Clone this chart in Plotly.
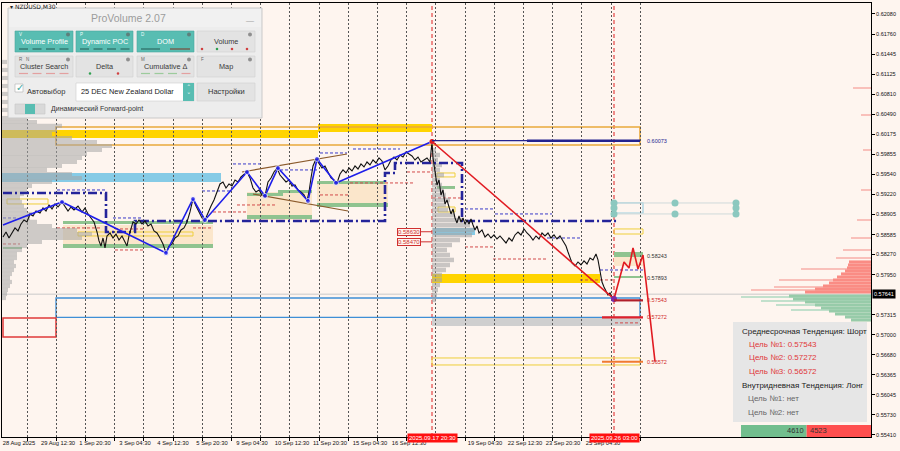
import plotly.graph_objects as go

# ---------------- data (x = bar position on the M30 time scale, y = price) ----------------
time_tick_pos = [19, 58, 95, 135, 173, 212, 252, 292, 330, 370, 409, 485, 525, 563, 603]
time_tick_text = ["28 Aug 2025", "29 Aug 12:30", "1 Sep 20:30", "3 Sep 04:30", "4 Sep 12:30",
                  "5 Sep 20:30", "9 Sep 04:30", "10 Sep 12:30", "11 Sep 20:30", "15 Sep 04:30",
                  "16 Sep 12:30", "19 Sep 04:30", "22 Sep 12:30", "23 Sep 20:30", "25 Sep 04:30"]
grid_pos = [27, 56.2, 85.4, 114.6, 143.8, 173, 202.2, 231.4, 260.6, 289.8, 319, 348.2, 377.4,
            406.6, 435.8, 465, 494.2, 523.4, 552.6, 581.8, 611, 640.2]
price_ticks = [0.62080, 0.61760, 0.61445, 0.61125, 0.60810, 0.60490, 0.60175, 0.59855, 0.59540,
               0.59220, 0.58905, 0.58585, 0.58270, 0.57950, 0.57315, 0.57000, 0.56680, 0.56365,
               0.56045, 0.55730, 0.55410]
current_price = 0.57641
marker_times = [432, 614]
marker_time_text = ["2025.09.17 20:30", "2025.09.26 03:00"]

price_x = [3, 6, 9, 12, 15, 18, 21, 24, 27, 30, 33, 36, 40, 43, 46, 49, 52, 55, 58, 62, 65, 68, 71, 74,
           78, 82, 85, 88, 91, 94, 97, 99, 101, 103, 105, 107, 110, 113, 116, 119, 122, 125, 127, 129,
           131, 133, 136, 139, 142, 145, 148, 151, 154, 157, 160, 163, 166, 169, 172, 175, 178, 181,
           184, 187, 190, 193, 196, 199, 202, 205, 208, 211, 214, 217, 220, 223, 226, 229, 232, 235,
           238, 241, 244, 247, 250, 253, 256, 259, 262, 265, 268, 271, 274, 277, 280, 283, 286, 289,
           292, 295, 298, 301, 304, 307, 309, 311, 313, 316, 319, 322, 325, 328, 331, 334, 337, 340,
           343, 346, 349, 352, 355, 358, 361, 364, 367, 370, 373, 376, 379, 382, 385, 388, 391, 394,
           397, 400, 403, 406, 409, 412, 415, 418, 421, 424, 427, 430, 432, 433, 435, 437, 439, 441,
           443, 445, 447, 449, 451, 453, 455, 457, 459, 461, 463, 465, 467, 469, 471, 473, 475, 477,
           479, 482, 485, 488, 491, 494, 497, 500, 503, 506, 509, 512, 515, 518, 521, 524, 527, 530,
           533, 536, 539, 542, 545, 548, 551, 554, 557, 560, 563, 566, 568, 570, 572, 575, 578, 581,
           584, 587, 590, 593, 596, 598, 600, 602, 604, 606, 608, 610, 612, 614]
price_y = [0.58547, 0.58626, 0.58531, 0.58610, 0.58690, 0.58642, 0.58753, 0.58816, 0.58785, 0.58912,
           0.58880, 0.58959, 0.58927, 0.59007, 0.58959, 0.59054, 0.58991, 0.59070, 0.59022, 0.59102,
           0.59038, 0.58959, 0.59022, 0.58975, 0.59038, 0.58943, 0.59007, 0.58912, 0.58848, 0.58785,
           0.58626, 0.58484, 0.58404, 0.58531, 0.58373, 0.58563, 0.58610, 0.58531, 0.58594, 0.58499,
           0.58563, 0.58452, 0.58404, 0.58563, 0.58690, 0.58785, 0.58753, 0.58816, 0.58753, 0.58801,
           0.58721, 0.58753, 0.58642, 0.58610, 0.58531, 0.58436, 0.58293, 0.58404, 0.58436, 0.58531,
           0.58563, 0.58658, 0.58690, 0.58785, 0.58943, 0.59149, 0.59038, 0.58943, 0.58848, 0.58816,
           0.58943, 0.59038, 0.59133, 0.59260, 0.59387, 0.59419, 0.59323, 0.59387, 0.59355, 0.59450,
           0.59419, 0.59498, 0.59545, 0.59577, 0.59482, 0.59323, 0.59260, 0.59292, 0.59213, 0.59197,
           0.59419, 0.59482, 0.59577, 0.59640, 0.59529, 0.59482, 0.59419, 0.59450, 0.59355, 0.59371,
           0.59292, 0.59260, 0.59213, 0.59118, 0.59260, 0.59482, 0.59672, 0.59783, 0.59719, 0.59640,
           0.59672, 0.59577, 0.59482, 0.59450, 0.59403, 0.59545, 0.59609, 0.59561, 0.59640, 0.59593,
           0.59672, 0.59624, 0.59704, 0.59656, 0.59735, 0.59688, 0.59767, 0.59719, 0.59799, 0.59751,
           0.59609, 0.59672, 0.59767, 0.59814, 0.59767, 0.59846, 0.59814, 0.59894, 0.59862, 0.59830,
           0.59767, 0.59814, 0.59735, 0.59767, 0.59799, 0.59735, 0.60060, 0.59799, 0.59609, 0.59371,
           0.59450, 0.59213, 0.59292, 0.59070, 0.59133, 0.59007, 0.58912, 0.58991, 0.58848, 0.58769,
           0.58880, 0.58785, 0.58848, 0.58753, 0.58816, 0.58753, 0.58832, 0.58737, 0.58658, 0.58721,
           0.58610, 0.58658, 0.58547, 0.58594, 0.58531, 0.58579, 0.58515, 0.58563, 0.58499, 0.58452,
           0.58531, 0.58484, 0.58579, 0.58626, 0.58579, 0.58674, 0.58610, 0.58563, 0.58499, 0.58563,
           0.58515, 0.58610, 0.58563, 0.58610, 0.58531, 0.58579, 0.58515, 0.58563, 0.58484, 0.58404,
           0.58309, 0.58214, 0.58135, 0.58087, 0.58151, 0.58103, 0.58167, 0.58119, 0.58214, 0.58183,
           0.58278, 0.58183, 0.58008, 0.57834, 0.57755, 0.57676, 0.57628, 0.57660, 0.57596, 0.57565]

wave_x = [3, 62, 166, 193, 205, 247, 265, 278, 308, 317, 336, 432]
wave_y = [0.58737, 0.59102, 0.58293, 0.59149, 0.58816, 0.59577, 0.59197, 0.59640, 0.59118,
          0.59783, 0.59403, 0.60060]
down_x = [432, 614]
down_y = [0.60060, 0.57565]
forecast_x = [614, 624, 629, 633, 638, 643, 655]
forecast_y = [0.57565, 0.58151, 0.58056, 0.58373, 0.58040, 0.58262, 0.56572]
channel_up_x, channel_up_y = [242, 347], [0.59577, 0.59862]
channel_dn_x, channel_dn_y = [253, 348], [0.59228, 0.58959]
poc_x = [3, 106, 106, 135, 135, 385, 385, 395, 395, 462, 462, 617]
poc_y = [0.59244, 0.59244, 0.58626, 0.58626, 0.58801, 0.58801, 0.59561, 0.59561, 0.59719,
         0.59719, 0.58801, 0.58801]
dot_x = [614, 614, 614, 675, 675, 736, 736, 736]
dot_y = [0.59086, 0.59007, 0.58912, 0.59086, 0.58912, 0.59086, 0.59007, 0.58912]

# zones: (x_start, x_end, price_low, price_high)
gold_zones = [(2, 318, 0.60116, 0.60242), (318, 432, 0.60211, 0.60337), (432, 600, 0.57818, 0.57961)]
sky_zones = [(2, 221, 0.59419, 0.59561), (433, 475, 0.58579, 0.58690)]
peach_zones = [(63, 213, 0.58389, 0.58737), (247, 312, 0.58816, 0.59260), (317, 388, 0.59022, 0.59419),
               (614, 643, 0.58087, 0.58230)]
green_zones = [(63, 213, 0.58753, 0.58801), (63, 213, 0.58373, 0.58436), (247, 283, 0.59197, 0.59244),
               (278, 312, 0.59244, 0.59292), (247, 312, 0.58832, 0.58896), (317, 385, 0.59387, 0.59434),
               (317, 388, 0.59022, 0.59086), (3, 22, 0.58357, 0.58389), (437, 455, 0.59308, 0.59355),
               (614, 643, 0.58230, 0.58309), (614, 643, 0.57897, 0.57929)]
grey_zones = [(432, 640, 0.57137, 0.57264)]
yellow_boxes = [(7, 48, 0.59070, 0.59149), (78, 193, 0.58563, 0.58626), (437, 455, 0.59498, 0.59561),
                (438, 455, 0.58943, 0.59022), (614, 643, 0.58594, 0.58674), (432, 640, 0.56519, 0.56630)]
orange_box = (56, 640, 0.60005, 0.60290)
blue_box = (56, 640, 0.57272, 0.57580)
red_box = (3, 56, 0.56963, 0.57264)
cyan_box = (614, 643, 0.58927, 0.59086)

red_dash_levels = [(3, 20, 0.58436), (57, 100, 0.58690), (115, 143, 0.58674), (115, 143, 0.58341),
                   (193, 213, 0.58690), (213, 247, 0.58943), (237, 277, 0.59054), (320, 348, 0.59213),
                   (350, 413, 0.59403), (407, 433, 0.59577), (433, 462, 0.59165), (465, 493, 0.58389),
                   (493, 547, 0.58198), (580, 613, 0.57866), (615, 640, 0.57186)]
blue_dash_levels = [(3, 18, 0.58848), (57, 106, 0.59292), (113, 143, 0.58848), (202, 230, 0.59276),
                    (233, 263, 0.59704), (280, 317, 0.59609), (320, 347, 0.59878), (353, 400, 0.59941),
                    (465, 493, 0.58991), (495, 552, 0.58912), (547, 580, 0.58531), (600, 643, 0.58024)]

poc_marks = [0.58630, 0.58470]
level_high = 0.60073
targets = [0.57543, 0.57272, 0.56572]
side_levels = [0.58243, 0.57893]

# left (session) volume profile
prof_l_y = [0.61320, 0.61193, 0.61066, 0.60939, 0.60813, 0.60686, 0.60559, 0.60432, 0.60369, 0.60306,
            0.60242, 0.60179, 0.60115, 0.60052, 0.59989, 0.59925, 0.59862, 0.59799, 0.59735, 0.59672,
            0.59609, 0.59545, 0.59482, 0.59419, 0.59355, 0.59292, 0.59228, 0.59165, 0.59102, 0.59038,
            0.58975, 0.58912, 0.58848, 0.58785, 0.58721, 0.58658, 0.58594, 0.58531, 0.58468, 0.58404,
            0.58341, 0.58278, 0.58214, 0.58151, 0.58087, 0.58024, 0.57961, 0.57897, 0.57834, 0.57771,
            0.57707, 0.57644, 0.57580]
prof_l_v = [5, 8, 10, 12, 15, 18, 20, 25, 35, 60, 55, 50, 70, 95, 110, 100, 85, 80, 75, 60, 45, 70, 80,
            50, 30, 25, 22, 18, 20, 22, 25, 30, 28, 35, 50, 75, 90, 80, 40, 25, 20, 15, 15, 12, 14, 12,
            10, 8, 10, 8, 6, 5, 4]
# profile of the last swing
prof_m_y = [0.59925, 0.59846, 0.59767, 0.59688, 0.59609, 0.59529, 0.59450, 0.59371, 0.59292, 0.59213,
            0.59133, 0.59054, 0.58975, 0.58896, 0.58816, 0.58737, 0.58658, 0.58579, 0.58499, 0.58420,
            0.58341, 0.58262, 0.58183, 0.58103, 0.58024, 0.57945, 0.57866, 0.57786, 0.57707, 0.57628,
            0.57549]
prof_m_v = [4, 8, 6, 10, 8, 12, 8, 10, 12, 14, 18, 14, 16, 22, 30, 38, 42, 40, 28, 20, 15, 18, 22, 18,
            14, 10, 10, 8, 6, 5, 4]
# DOM (right edge)
dom_ask_y = [0.58151, 0.58103, 0.58056, 0.58008, 0.57961, 0.57913, 0.57866, 0.57818, 0.57771, 0.57723,
             0.57676]
dom_ask_v = [22, 23, 24, 26, 30, 34, 38, 42, 48, 56, 66]
dom_ask_thin_y = [0.60908, 0.60480, 0.59925, 0.59292, 0.58816, 0.58531, 0.58341, 0.58214, 0.58040,
                  0.57866, 0.57755, 0.57707]
dom_ask_thin_v = [18, 10, 8, 10, 14, 20, 28, 35, 70, 92, 97, 120]
dom_bid_y = [0.57612, 0.57565, 0.57517, 0.57470, 0.57422, 0.57375, 0.57327, 0.57280, 0.57232]
dom_bid_v = [82, 78, 66, 56, 50, 42, 36, 26, 20]
dom_bid_thin_y = [0.57596, 0.57533, 0.57470, 0.57391]
dom_bid_thin_v = [130, 110, 95, 80]
vol_buy, vol_sell = 4610, 4523

trend_mid = "Среднесрочная Тенденция: Шорт"
trend_intra = "Внутридневная Тенденция: Лонг"
intra_targets = ["нет", "нет"]

# ---------------- figure ----------------
BG = "#FEF5EF"
FONT = "Liberation Sans"
X0, X1 = 2, 871
Y_LO, Y_HI = 0.55378, 0.62254


def fx(p):
    return (p - 2) / 869.0


def fy(p):
    return 1 - (p - 3) / 434.0


fig = go.Figure()
shapes = []
ann = []


def zone(z, fill, line=None, lw=1.0, dash=None):
    shapes.append(dict(type="rect", xref="x", yref="y", x0=z[0], x1=z[1], y0=z[2], y1=z[3],
                       fillcolor=fill, layer="below",
                       line=dict(color=line if line else "rgba(0,0,0,0)", width=lw if line else 0,
                                 dash=dash)))


for z in peach_zones:
    zone(z, "#FBE6CB")
for z in gold_zones:
    zone(z, "#FFD400")
for z in sky_zones:
    zone(z, "#86CBE6")
for z in green_zones:
    zone(z, "#8FC38F")
for z in grey_zones:
    zone(z, "#CFCFCF")
for z in yellow_boxes:
    zone(z, "rgba(0,0,0,0)", "#EFCF3A", 1)
zone(orange_box, "rgba(0,0,0,0)", "#E9A93C", 1.6)
zone(blue_box, "rgba(0,0,0,0)", "#3E8FD6", 1.3)
zone(red_box, "rgba(0,0,0,0)", "#E03A3A", 1.5)
zone(cyan_box, "rgba(0,0,0,0)", "#9CCFE0", 1.2)


def hline(x0, x1, y, color, width, dash=None, layer="below"):
    shapes.append(dict(type="line", xref="x", yref="y", x0=x0, x1=x1, y0=y, y1=y, layer=layer,
                       line=dict(color=color, width=width, dash=dash)))


hline(X0, X1, current_price, "#C9C9C9", 1)
for a, b, y in red_dash_levels:
    hline(a, b, y, "#D24A4A", 1, "3px,2px")
for a, b, y in blue_dash_levels:
    hline(a, b, y, "#3A3AC8", 1, "3px,2px")
hline(432, 640, level_high, "#23238F", 1.2, layer="above")
hline(527, 640, level_high, "#23238F", 2.5, layer="above")
hline(614, 643, targets[0], "#B01E2A", 2.2, layer="above")
hline(602, 643, targets[1], "#E0202A", 2.2, layer="above")
hline(602, 643, targets[2], "#F07A30", 2.0, layer="above")
for y in poc_marks:
    hline(421, 432, y, "#D03030", 1)
for xv in marker_times:
    shapes.append(dict(type="line", xref="x", yref="paper", x0=xv, x1=xv, y0=0, y1=1, layer="below",
                       line=dict(color="#E02020", width=1, dash="4px,3px")))

# volume profiles
fig.add_trace(go.Bar(y=prof_l_y, x=prof_l_v, base=X0, orientation="h", width=0.00066,
                     marker=dict(color="rgba(165,165,165,0.55)", line_width=0), hoverinfo="skip"))
fig.add_trace(go.Bar(y=prof_m_y, x=prof_m_v, base=432, orientation="h", width=0.0007,
                     marker=dict(color="rgba(165,165,165,0.6)", line_width=0), hoverinfo="skip"))
fig.add_trace(go.Bar(y=dom_ask_thin_y, x=[-v for v in dom_ask_thin_v], base=X1, orientation="h",
                     width=0.00016, marker=dict(color="#F9C0BA", line_width=0), hoverinfo="skip"))
fig.add_trace(go.Bar(y=dom_bid_thin_y, x=[-v for v in dom_bid_thin_v], base=X1, orientation="h",
                     width=0.00016, marker=dict(color="#C2E0CC", line_width=0), hoverinfo="skip"))
fig.add_trace(go.Bar(y=dom_ask_y, x=[-v for v in dom_ask_v], base=X1, orientation="h", width=0.00049,
                     marker=dict(color="#FA8C84", line_width=0), hoverinfo="skip"))
fig.add_trace(go.Bar(y=dom_bid_y, x=[-v for v in dom_bid_v], base=X1, orientation="h", width=0.00049,
                     marker=dict(color="#97CBA9", line_width=0), hoverinfo="skip"))

# dynamic POC (dash-dot) and channel
fig.add_trace(go.Scatter(x=poc_x, y=poc_y, mode="lines", hoverinfo="skip",
                         line=dict(color="#24249A", width=2.6, dash="9px,3px,2px,3px")))
fig.add_trace(go.Scatter(x=channel_up_x, y=channel_up_y, mode="lines", hoverinfo="skip",
                         line=dict(color="#8B5A2B", width=1.2)))
fig.add_trace(go.Scatter(x=channel_dn_x, y=channel_dn_y, mode="lines", hoverinfo="skip",
                         line=dict(color="#8B5A2B", width=1.2)))
# forward points
fig.add_trace(go.Scatter(x=[dot_x[0], dot_x[5]], y=[dot_y[0], dot_y[0]], mode="lines", hoverinfo="skip",
                         line=dict(color="#CFDADA", width=1)))
fig.add_trace(go.Scatter(x=[dot_x[0], dot_x[5]], y=[dot_y[2], dot_y[2]], mode="lines", hoverinfo="skip",
                         line=dict(color="#CFDADA", width=1)))
fig.add_trace(go.Scatter(x=dot_x, y=dot_y, mode="markers", hoverinfo="skip",
                         marker=dict(color="#8CC8BF", size=7)))

# price
fig.add_trace(go.Scatter(x=price_x, y=price_y, mode="lines", hoverinfo="skip",
                         line=dict(color="#111111", width=1.1)))
# zigzags
fig.add_trace(go.Scatter(x=wave_x, y=wave_y, mode="lines+markers", hoverinfo="skip",
                         line=dict(color="#1E1EEA", width=1.6),
                         marker=dict(color="#1E1EEA", size=[0] + [5] * (len(wave_x) - 1))))
fig.add_trace(go.Scatter(x=down_x, y=down_y, mode="lines", hoverinfo="skip",
                         line=dict(color="#E11B22", width=1.6)))
fig.add_trace(go.Scatter(x=forecast_x, y=forecast_y, mode="lines", hoverinfo="skip",
                         line=dict(color="#E11B22", width=1.6)))
fig.add_trace(go.Scatter(x=[down_x[0]], y=[down_y[0]], mode="markers", hoverinfo="skip",
                         marker=dict(color="#E11B22", size=5)))
fig.add_trace(go.Scatter(x=[down_x[1]], y=[down_y[1]], mode="markers", hoverinfo="skip",
                         marker=dict(color="#7B2AA8", size=6)))

# bottom buy/sell volume bar (widths proportional to the volumes)
tot = vol_buy + vol_sell
split = X1 - 130 + 130 * vol_buy / tot
shapes.append(dict(type="rect", xref="x", yref="y", x0=X1 - 130, x1=split, y0=Y_LO, y1=0.55569,
                   fillcolor="#72BE8E", line=dict(width=0), layer="above"))
shapes.append(dict(type="rect", xref="x", yref="y", x0=split, x1=X1, y0=Y_LO, y1=0.55569,
                   fillcolor="#FF4F4F", line=dict(width=0), layer="above"))
ann.append(dict(xref="x", yref="y", x=split - 1, y=0.55474, text=str(vol_buy), showarrow=False,
                xanchor="right", font=dict(size=7.5, color="#333", family=FONT)))
ann.append(dict(xref="x", yref="y", x=split + 1, y=0.55474, text=str(vol_sell), showarrow=False,
                xanchor="left", font=dict(size=7.5, color="#333", family=FONT)))


# ---------------- UI decorations (pixel placed, paper coords) ----------------
def rect(x0, y0, x1, y1, fill, line=None, lw=0.8):
    shapes.append(dict(type="rect", xref="paper", yref="paper", x0=fx(x0), x1=fx(x1), y0=fy(y1),
                       y1=fy(y0), fillcolor=fill, layer="above",
                       line=dict(color=line if line else "rgba(0,0,0,0)", width=lw if line else 0)))


def circ(x, y, r, fill):
    shapes.append(dict(type="circle", xref="paper", yref="paper", x0=fx(x - r), x1=fx(x + r),
                       y0=fy(y + r), y1=fy(y - r), fillcolor=fill, line=dict(width=0), layer="above"))


def seg(x0, x1, y, color, w=1.2):
    shapes.append(dict(type="line", xref="paper", yref="paper", x0=fx(x0), x1=fx(x1), y0=fy(y),
                       y1=fy(y), line=dict(color=color, width=w), layer="above"))


def text(x, y, s, size, color, anchor="center", family=FONT):
    ann.append(dict(xref="paper", yref="paper", x=fx(x), y=fy(y), text=s, showarrow=False,
                    xanchor=anchor, yanchor="middle", font=dict(size=size, color=color, family=family)))


text(8, 6, "▾ NZDUSD,M30", 6, "#222", "left", "DejaVu Sans")

TEAL = "#58BDB2"
GREYB = "#E3E3E3"
rect(8, 8, 262, 118, "#EDEDED", "#C9C9C9", 1)
rect(9, 9, 261, 27, "#F1F1F1")
text(128, 18, "ProVolume 2.07", 10.5, "#9C9C9C")
text(250, 20, "—", 8, "#A0A0A0")

buttons = [(15, 73, 31, 52, "Volume Profile", True, "V"), (76, 133, 31, 52, "Dynamic POC", True, "P"),
           (137, 194, 31, 52, "DOM", True, "D"), (197, 255, 31, 52, "Volume", False, ""),
           (15, 73, 56, 77, "Cluster Search", False, "R   N"), (76, 133, 56, 77, "Delta", False, ""),
           (137, 194, 56, 77, "Cumulative Δ", False, "M"), (197, 255, 56, 77, "Map", False, "F")]
for (bx0, bx1, by0, by1, lab, on, key) in buttons:
    rect(bx0, by0, bx1, by1, TEAL if on else GREYB, "#4BAA9F" if on else "#D0D0D0", 0.6)
    text((bx0 + bx1) / 2, (by0 + by1) / 2, lab, 7.3, "#FFFFFF" if on else "#3A3A3A")
    circ(bx1 - 5, by0 + 3.5, 2, "#8F8F8F" if not on else "#5D7F7B")
    if key:
        text(bx0 + 2, by0 + 3.5, key, 4.5, "#EFFFFF" if on else "#666", "left")
# indicator strips under the button captions
for bx0 in (15, 76):
    for k in range(4):
        seg(bx0 + 4 + k * 13.5, bx0 + 13 + k * 13.5, 49, "#2D6A62")
seg(141, 160, 49, "#2D6A62")
seg(170, 190, 49, "#7A4A3A")
for k, c in enumerate(["#D04040", "#30A050", "#D04040", "#D04040"]):
    circ(202 + k * 15, 49, 1.3, c)
for k in range(4):
    seg(19 + k * 13.5, 28 + k * 13.5, 73.5, "#E3A0A0")
circ(90, 73.5, 1.3, "#30A050")
circ(118, 73.5, 1.3, "#D04040")
for k, c in enumerate(["#9CCB9C", "#9CCB9C", "#9CCB9C", "#E3A0A0"]):
    seg(141 + k * 13.5, 150 + k * 13.5, 73.5, c)

rect(15, 84, 23, 92, "#FFFFFF", "#B0B0B0", 0.6)
text(19.5, 87, "✓", 10, "#3FA89C", family="DejaVu Sans")
text(25, 91, "Автовыбор", 7.5, "#333", "left")
rect(76, 83, 194, 101, "#FFFFFF", "#CFCFCF", 0.6)
rect(183, 83, 194, 101, TEAL)
text(188.5, 88.5, "˄", 7, "#FFFFFF", family="DejaVu Sans")
text(188.5, 96, "˅", 7, "#FFFFFF", family="DejaVu Sans")
text(79, 92, "25 DEC New Zealand Dollar", 7.4, "#222", "left")
rect(197, 83, 255, 101, GREYB, "#D0D0D0", 0.6)
text(226, 92, "Настройки", 7.5, "#333")
rect(15, 104, 45, 114, "#D9D9D9", "#C6C6C6", 0.6)
rect(25, 104, 35, 114, TEAL)
text(49, 109, "Динамический Forward-point", 7, "#333", "left")

# info box
rect(733, 322, 867, 422, "#E6E6E6")
text(740, 331, trend_mid, 8, "#222", "left")
for i, t in enumerate(targets):
    text(747, 344 + i * 13.5, "Цель №%d: %.5f" % (i + 1, t), 8, "#E0383A", "left")
text(740, 385, trend_intra, 8, "#222", "left")
for i, t in enumerate(intra_targets):
    text(746, 398 + i * 14, "Цель №%d: %s" % (i + 1, t), 8, "#666", "left")

# level labels
for y in poc_marks:
    ann.append(dict(xref="x", yref="y", x=409, y=y, text="%.5f" % y, showarrow=False,
                    font=dict(size=6, color="#D03030", family=FONT), bgcolor=BG,
                    bordercolor="#D03030", borderwidth=1, borderpad=0))
lab_vals = [level_high] + side_levels + targets
lab_cols = ["#23238F", "#333333", "#333333", "#D02828", "#D02828", "#D02828"]
for y, c in zip(lab_vals, lab_cols):
    ann.append(dict(xref="x", yref="y", x=645, y=y, text="%.5f" % y, showarrow=False, xanchor="left",
                    font=dict(size=5.5, color=c, family=FONT)))
# current price tag and time tags
ann.append(dict(xref="paper", yref="y", x=fx(872), y=current_price, text="%.5f" % current_price,
                showarrow=False, xanchor="left", bgcolor="#000000", borderpad=1,
                font=dict(size=5.5, color="#FFFFFF", family=FONT)))
for xv, t in zip(marker_times, marker_time_text):
    ann.append(dict(xref="x", yref="paper", x=xv, y=fy(442.5), text=t, showarrow=False,
                    bgcolor="#FF1010", borderpad=1, font=dict(size=6, color="#FFFFFF", family=FONT)))

fig.update_layout(
    width=900, height=451, margin=dict(l=2, r=29, t=3, b=14),
    paper_bgcolor=BG, plot_bgcolor=BG, showlegend=False, barmode="overlay",
    shapes=shapes, annotations=ann,
    xaxis=dict(range=[X0, X1], tickmode="array", tickvals=time_tick_pos, ticktext=time_tick_text,
               ticks="", showgrid=False, zeroline=False, showline=True, linecolor="#000", linewidth=1,
               mirror=True, tickangle=0, automargin=False,
               tickfont=dict(size=5.8, family=FONT, color="#111"),
               minor=dict(tickmode="array", tickvals=grid_pos, showgrid=True, gridcolor="#555555",
                          griddash="2px,2px", gridwidth=1, ticks="outside", ticklen=3,
                          tickcolor="#000")),
    yaxis=dict(range=[Y_LO, Y_HI], side="right", tickmode="array", tickvals=price_ticks,
               tickformat=".5f", ticks="outside", ticklen=3, tickcolor="#000", showgrid=False,
               zeroline=False, showline=True, mirror=True, linecolor="#000", linewidth=1,
               automargin=False, tickfont=dict(size=5.5, family=FONT, color="#111")),
)

fig.write_html("out.html", config={"displayModeBar": False},
               post_script="document.body.style.margin='0px';document.body.style.overflow='hidden';")
